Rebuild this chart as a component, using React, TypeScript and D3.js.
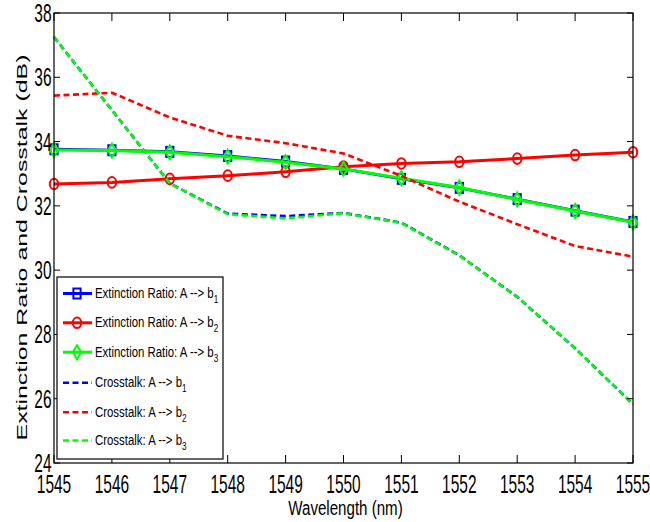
import React from "react";
import * as d3 from "d3";

const wavelengths = [1545, 1546, 1547, 1548, 1549, 1550, 1551, 1552, 1553, 1554, 1555];
const erB1 = [33.76, 33.73, 33.68, 33.55, 33.38, 33.15, 32.84, 32.56, 32.21, 31.85, 31.5];
const erB2 = [32.68, 32.73, 32.84, 32.94, 33.06, 33.22, 33.32, 33.37, 33.47, 33.58, 33.67];
const erB3 = [33.74, 33.72, 33.67, 33.53, 33.36, 33.15, 32.86, 32.57, 32.2, 31.84, 31.49];
const ctB1 = [37.25, 34.98, 32.7, 31.76, 31.68, 31.78, 31.48, 30.46, 29.17, 27.57, 25.83];
const ctB2 = [35.43, 35.52, 34.75, 34.18, 33.95, 33.63, 32.93, 32.13, 31.43, 30.75, 30.42];
const ctB3 = [37.25, 34.98, 32.7, 31.74, 31.61, 31.77, 31.47, 30.45, 29.17, 27.57, 25.83];
const xTicks = [1545, 1546, 1547, 1548, 1549, 1550, 1551, 1552, 1553, 1554, 1555];
const yTicks = [24, 26, 28, 30, 32, 34, 36, 38];

const W = 650, H = 522;
const L = 54, R = 633, T = 13, B = 463;
const FONT = "'Liberation Sans', Arial, Helvetica, sans-serif";

type Series = { name: string; sub: string; values: number[]; color: string; dashed: boolean; marker: string | null };

const series: Series[] = [
  { name: "Extinction Ratio: A --> b", sub: "1", values: erB1, color: "#0000ff", dashed: false, marker: "square" },
  { name: "Extinction Ratio: A --> b", sub: "2", values: erB2, color: "#ff0000", dashed: false, marker: "circle" },
  { name: "Extinction Ratio: A --> b", sub: "3", values: erB3, color: "#00ff00", dashed: false, marker: "diamond" },
  { name: "Crosstalk: A --> b", sub: "1", values: ctB1, color: "#0000ff", dashed: true, marker: null },
  { name: "Crosstalk: A --> b", sub: "2", values: ctB2, color: "#ff0000", dashed: true, marker: null },
  { name: "Crosstalk: A --> b", sub: "3", values: ctB3, color: "#00ff00", dashed: true, marker: null },
];

function Marker({ kind, x, y, color }: { kind: string; x: number; y: number; color: string }) {
  if (kind === "square") {
    return <rect x={x - 3.6} y={y - 5} width={7.2} height={10} fill="none" stroke={color} strokeWidth={2} />;
  }
  if (kind === "circle") {
    return <ellipse cx={x} cy={y} rx={4.2} ry={5.3} fill="none" stroke={color} strokeWidth={2} />;
  }
  if (kind === "diamond") {
    return <path d={`M${x},${y - 7}L${x + 4.2},${y}L${x},${y + 7}L${x - 4.2},${y}Z`} fill="none" stroke={color} strokeWidth={2} />;
  }
  return null;
}

export default function App() {
  const x = d3.scaleLinear().domain([1545, 1555]).range([L, R]);
  const y = d3.scaleLinear().domain([24, 38]).range([B, T]);
  const line = d3.line<number>().x((_, i) => x(wavelengths[i])).y((v) => y(v));

  const legX = 57, legY = 277, legW = 166, legH = 182;
  const rowBase = [298, 327.3, 356.7, 387.3, 416.7, 445];

  return (
    <svg width={W} height={H} style={{ position: "absolute", left: 0, top: 0, background: "#fff" }}>
      <rect x={0} y={0} width={W} height={H} fill="#fff" />
      {/* series */}
      {series.map((s, si) => (
        <g key={si}>
          <path
            d={line(s.values) || ""}
            fill="none"
            stroke={s.color}
            strokeWidth={s.dashed ? 2.6 : 3}
            strokeDasharray={s.dashed ? "6,3.5" : undefined}
            strokeLinejoin="round"
          />
          {s.marker &&
            s.values.map((v, i) => <Marker key={i} kind={s.marker as string} x={x(wavelengths[i])} y={y(v)} color={s.color} />)}
        </g>
      ))}
      {/* frame */}
      <rect x={L} y={T} width={R - L} height={B - T} fill="none" stroke="#000" strokeWidth={1.2} />
      {xTicks.map((t) => (
        <g key={"xt" + t}>
          <line x1={x(t)} x2={x(t)} y1={B} y2={B - 8} stroke="#000" strokeWidth={1} />
          <line x1={x(t)} x2={x(t)} y1={T} y2={T + 8} stroke="#000" strokeWidth={1} />
          <text
            transform={`translate(${x(t)},${493}) scale(0.62,1)`}
            textAnchor="middle"
            fontSize={25}
            fontFamily={FONT}
            fill="#000"
          >
            {t}
          </text>
        </g>
      ))}
      {yTicks.map((t) => (
        <g key={"yt" + t}>
          <line x1={L} x2={L + 6} y1={y(t)} y2={y(t)} stroke="#000" strokeWidth={1} />
          <line x1={R} x2={R - 6} y1={y(t)} y2={y(t)} stroke="#000" strokeWidth={1} />
          <text
            transform={`translate(${51.5},${y(t) + 9}) scale(0.62,1)`}
            textAnchor="end"
            fontSize={25}
            fontFamily={FONT}
            fill="#000"
          >
            {t}
          </text>
        </g>
      ))}
      {/* axis labels */}
      <text transform={`translate(345.5,515) scale(0.72,1)`} textAnchor="middle" fontSize={21} fontFamily={FONT} fill="#000">
        Wavelength (nm)
      </text>
      <text transform={`translate(27,247.5) rotate(-90) scale(1.66,1)`} textAnchor="middle" fontSize={15} fontFamily={FONT} fill="#000">
        Extinction Ratio and Crosstalk (dB)
      </text>
      {/* legend */}
      <rect x={legX} y={legY} width={legW} height={legH} fill="#fff" stroke="#000" strokeWidth={1.2} />
      {series.map((s, i) => {
        const ly = rowBase[i] - 4.5;
        return (
          <g key={"lg" + i}>
            <line
              x1={63}
              x2={92}
              y1={ly}
              y2={ly}
              stroke={s.color}
              strokeWidth={s.dashed ? 2.6 : 3}
              strokeDasharray={s.dashed ? "6,3.5" : undefined}
            />
            {s.marker && <Marker kind={s.marker} x={77} y={ly} color={s.color} />}
            <text transform={`translate(95,${rowBase[i]}) scale(0.74,1)`} fontSize={15.4} fontFamily={FONT} fill="#000">
              {s.name}
              <tspan fontSize={11} dy={5}>{s.sub}</tspan>
            </text>
          </g>
        );
      })}
    </svg>
  );
}
